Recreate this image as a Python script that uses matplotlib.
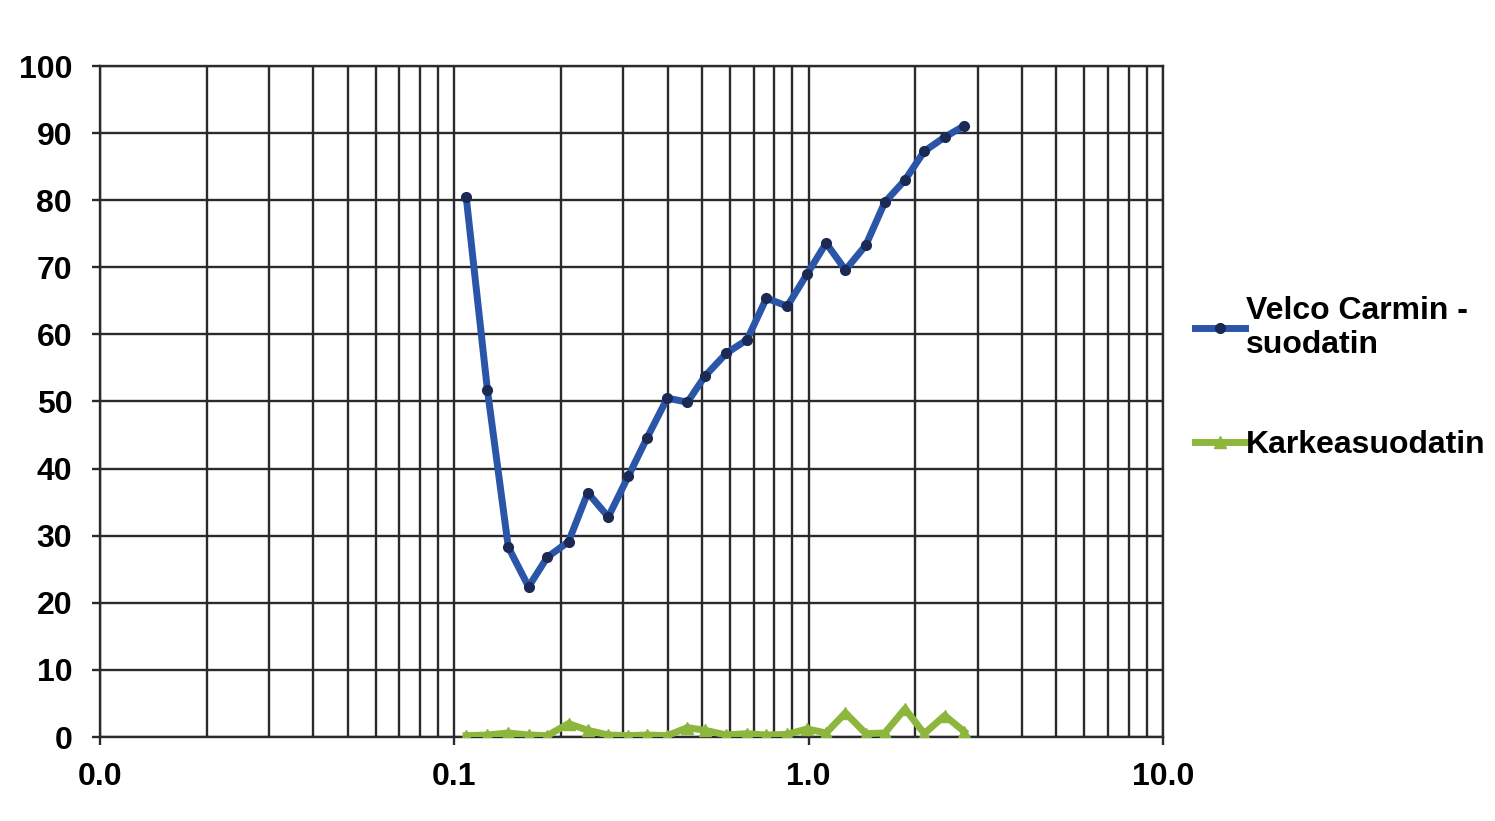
import numpy as np
import matplotlib
matplotlib.use('Agg')
import matplotlib.pyplot as plt
from matplotlib.ticker import FixedLocator, LogLocator, NullFormatter

plt.rcParams['font.family'] = ['Liberation Sans', 'DejaVu Sans']
plt.rcParams['font.weight'] = 'bold'

# particle size (log scale) and efficiency values
koko = [0.108, 0.124, 0.142, 0.162, 0.183, 0.210, 0.238, 0.272, 0.310, 0.350,
        0.399, 0.455, 0.510, 0.586, 0.670, 0.760, 0.870, 0.990, 1.12, 1.27,
        1.45, 1.64, 1.87, 2.12, 2.42, 2.75]
velco = [80.5, 51.7, 28.3, 22.4, 26.8, 29.1, 36.4, 32.8, 38.9, 44.6,
         50.5, 49.9, 53.8, 57.2, 59.2, 65.4, 64.2, 69.0, 73.6, 69.6,
         73.3, 79.7, 83.0, 87.3, 89.4, 91.1]
karkea = [0.2, 0.3, 0.6, 0.3, 0.2, 2.0, 1.0, 0.3, 0.2, 0.3,
          0.2, 1.4, 1.0, 0.3, 0.5, 0.3, 0.4, 1.2, 0.6, 3.6,
          0.5, 0.6, 4.2, 0.5, 3.2, 0.8]
x_ticks = [0.01, 0.1, 1, 10]
x_labels = ['0.0', '0.1', '1.0', '10.0']

fig = plt.figure(figsize=(14.95, 8.21), dpi=100)
ax = fig.add_axes([100/1495, 1 - 737/821, 1063/1495, 671/821])

ax.plot(koko, velco, color='#2b55a8', lw=5, marker='o', ms=7,
        mfc='#1a2a55', mec='#1a2a55', label='Velco Carmin -\nsuodatin', zorder=3)
ax.plot(koko, karkea, color='#8cb63c', lw=5, marker='^', ms=8,
        mfc='#8cb63c', mec='#8cb63c', label='Karkeasuodatin', zorder=3)

ax.set_xscale('log')
ax.set_xlim(0.01, 10)
ax.set_ylim(0, 100)
ax.set_yticks(np.arange(0, 101, 10))
ax.xaxis.set_major_locator(FixedLocator(x_ticks))
ax.set_xticklabels(x_labels)
ax.xaxis.set_minor_locator(LogLocator(base=10, subs=np.arange(2, 10)))
ax.xaxis.set_minor_formatter(NullFormatter())

ax.grid(True, which='major', color='#2a2a2a', lw=1.7)
ax.grid(True, which='minor', axis='x', color='#2a2a2a', lw=1.7)
for s in ax.spines.values():
    s.set_color('#2a2a2a')
    s.set_linewidth(1.7)

ax.tick_params(axis='both', which='major', labelsize=23, length=6, width=1.7,
               color='#2a2a2a')
ax.tick_params(axis='x', pad=12)
ax.tick_params(axis='y', pad=14)
ax.tick_params(axis='x', which='minor', length=0)
for lab in ax.get_xticklabels() + ax.get_yticklabels():
    lab.set_fontweight('bold')

leg = fig.legend(loc='center left', bbox_to_anchor=(1195/1495, 1 - 378/821),
                 frameon=False, borderpad=0, borderaxespad=0,
                 handlelength=1.55, handletextpad=0.05, labelspacing=2.2,
                 prop={'weight': 'bold', 'size': 23})

fig.savefig('out.png', dpi=100)
